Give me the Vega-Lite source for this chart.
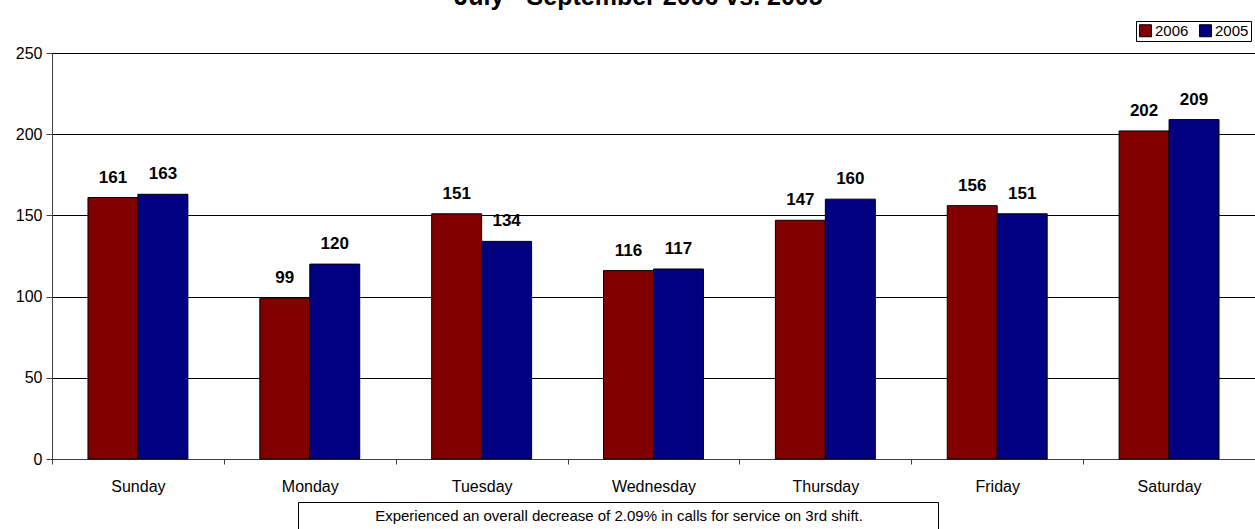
{
  "$schema": "https://vega.github.io/schema/vega-lite/v6.json",
  "width": 1203,
  "height": 406,
  "autosize": {"type": "none"},
  "padding": {"left": 52, "top": 53, "right": 0, "bottom": 70},
  "background": "white",
  "title": {
    "text": "July - September 2006 vs. 2005",
    "font": "Liberation Sans",
    "fontSize": 25,
    "fontWeight": "bold",
    "color": "black",
    "anchor": "middle",
    "baseline": "alphabetic",
    "dx": -15,
    "offset": -9
  },
  "config": {
    "font": "Liberation Sans",
    "view": {"stroke": "#808080", "strokeWidth": 1}
  },
  "data": {
    "values": [
      {"day": "Sunday", "year": "2006", "calls": 161},
      {"day": "Sunday", "year": "2005", "calls": 163},
      {"day": "Monday", "year": "2006", "calls": 99},
      {"day": "Monday", "year": "2005", "calls": 120},
      {"day": "Tuesday", "year": "2006", "calls": 151},
      {"day": "Tuesday", "year": "2005", "calls": 134},
      {"day": "Wednesday", "year": "2006", "calls": 116},
      {"day": "Wednesday", "year": "2005", "calls": 117},
      {"day": "Thursday", "year": "2006", "calls": 147},
      {"day": "Thursday", "year": "2005", "calls": 160},
      {"day": "Friday", "year": "2006", "calls": 156},
      {"day": "Friday", "year": "2005", "calls": 151},
      {"day": "Saturday", "year": "2006", "calls": 202},
      {"day": "Saturday", "year": "2005", "calls": 209}
    ]
  },
  "encoding": {
    "x": {
      "field": "day",
      "type": "nominal",
      "sort": ["Sunday", "Monday", "Tuesday", "Wednesday", "Thursday", "Friday", "Saturday"],
      "scale": {"paddingInner": 0, "paddingOuter": 0},
      "axis": {
        "title": null,
        "labelAngle": 0,
        "labelFontSize": 16,
        "labelColor": "black",
        "labelPadding": 14,
        "tickBand": "extent",
        "tickSize": 5,
        "tickColor": "#404040",
        "domainColor": "#404040",
        "grid": false
      }
    },
    "xOffset": {"field": "year", "type": "nominal", "sort": ["2006", "2005"], "scale": {"paddingInner": 0, "paddingOuter": 0.72}},
    "y": {
      "field": "calls",
      "type": "quantitative",
      "scale": {"domain": [0, 250], "nice": false},
      "axis": {
        "title": null,
        "values": [0, 50, 100, 150, 200, 250],
        "labelFontSize": 16,
        "labelColor": "black",
        "labelPadding": 4,
        "tickSize": 6,
        "tickColor": "#404040",
        "domainColor": "#404040",
        "gridColor": "black",
        "gridOpacity": 1
      }
    }
  },
  "layer": [
    {
      "mark": {"type": "bar", "stroke": "black", "strokeWidth": 1},
      "encoding": {
        "color": {
          "field": "year",
          "type": "nominal",
          "sort": ["2006", "2005"],
          "scale": {"domain": ["2006", "2005"], "range": ["#800000", "#000080"]},
          "legend": {
            "title": null,
            "orient": "none",
            "direction": "horizontal",
            "legendX": 1084,
            "legendY": -32,
            "symbolType": "square",
            "symbolSize": 144,
            "symbolStrokeColor": "black",
            "symbolStrokeWidth": 1,
            "symbolOpacity": 1,
            "labelFontSize": 15,
            "labelColor": "black",
            "labelOffset": 2,
            "columnPadding": 8,
            "strokeColor": "black",
            "fillColor": "white",
            "padding": 2
          }
        }
      }
    },
    {
      "mark": {"type": "text", "fontWeight": "bold", "fontSize": 17, "dy": -15, "baseline": "alphabetic", "color": "black"},
      "encoding": {
        "text": {"field": "calls", "type": "quantitative"}
      }
    },
    {
      "mark": {"type": "point", "opacity": 0, "filled": true},
      "encoding": {
        "shape": {
          "datum": "Experienced an overall decrease of 2.09% in calls for service on 3rd shift.",
          "scale": {"range": ["M0,-1H100V1H0Z"]},
          "legend": {
            "title": null,
            "orient": "none",
            "legendX": 246,
            "legendY": 449,
            "symbolSize": 154,
            "symbolOpacity": 0,
            "symbolStrokeWidth": 0,
            "symbolFillColor": "white",
            "labelAlign": "center",
            "labelOffset": 300,
            "labelFontSize": 15,
            "labelColor": "black",
            "labelLimit": 0,
            "strokeColor": "black",
            "fillColor": "white",
            "padding": 6
          }
        }
      }
    }
  ]
}
